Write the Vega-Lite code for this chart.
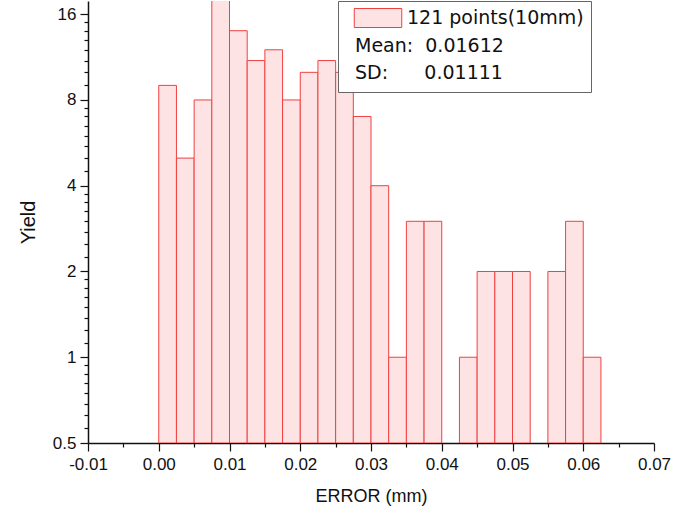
{
  "$schema": "https://vega.github.io/schema/vega-lite/v6.json",
  "autosize": {"type": "none"},
  "width": 566,
  "height": 442,
  "padding": {"left": 88, "top": 1, "right": 28, "bottom": 68},
  "background": "white",
  "config": {
    "view": {"stroke": null},
    "font": "Liberation Sans",
    "axis": {
      "grid": false,
      "domainColor": "#111",
      "domainWidth": 1.5,
      "tickColor": "#111",
      "tickWidth": 1.2,
      "labelFont": "Liberation Sans",
      "labelFontSize": 17,
      "labelColor": "#111",
      "titleFont": "Liberation Sans",
      "titleFontSize": 18,
      "titleFontWeight": "normal",
      "titleColor": "#111"
    }
  },
  "data": {
    "values": [
      {"x0": 0.0, "x1": 0.0025, "count": 9, "series": "121 points(10mm)"},
      {"x0": 0.0025, "x1": 0.005, "count": 5, "series": "121 points(10mm)"},
      {"x0": 0.005, "x1": 0.0075, "count": 8, "series": "121 points(10mm)"},
      {"x0": 0.0075, "x1": 0.01, "count": 18, "series": "121 points(10mm)"},
      {"x0": 0.01, "x1": 0.0125, "count": 14, "series": "121 points(10mm)"},
      {"x0": 0.0125, "x1": 0.015, "count": 11, "series": "121 points(10mm)"},
      {"x0": 0.015, "x1": 0.0175, "count": 12, "series": "121 points(10mm)"},
      {"x0": 0.0175, "x1": 0.02, "count": 8, "series": "121 points(10mm)"},
      {"x0": 0.02, "x1": 0.0225, "count": 10, "series": "121 points(10mm)"},
      {"x0": 0.0225, "x1": 0.025, "count": 11, "series": "121 points(10mm)"},
      {"x0": 0.025, "x1": 0.0275, "count": 10, "series": "121 points(10mm)"},
      {"x0": 0.0275, "x1": 0.03, "count": 7, "series": "121 points(10mm)"},
      {"x0": 0.03, "x1": 0.0325, "count": 4, "series": "121 points(10mm)"},
      {"x0": 0.0325, "x1": 0.035, "count": 1, "series": "121 points(10mm)"},
      {"x0": 0.035, "x1": 0.0375, "count": 3, "series": "121 points(10mm)"},
      {"x0": 0.0375, "x1": 0.04, "count": 3, "series": "121 points(10mm)"},
      {"x0": 0.0425, "x1": 0.045, "count": 1, "series": "121 points(10mm)"},
      {"x0": 0.045, "x1": 0.0475, "count": 2, "series": "121 points(10mm)"},
      {"x0": 0.0475, "x1": 0.05, "count": 2, "series": "121 points(10mm)"},
      {"x0": 0.05, "x1": 0.0525, "count": 2, "series": "121 points(10mm)"},
      {"x0": 0.055, "x1": 0.0575, "count": 2, "series": "121 points(10mm)"},
      {"x0": 0.0575, "x1": 0.06, "count": 3, "series": "121 points(10mm)"},
      {"x0": 0.06, "x1": 0.0625, "count": 1, "series": "121 points(10mm)"}
    ]
  },
  "mark": {"type": "bar", "clip": true, "strokeWidth": 1},
  "encoding": {
    "x": {
      "field": "x0",
      "type": "quantitative",
      "scale": {"domain": [-0.01, 0.07], "nice": false, "zero": false},
      "axis": {
        "title": "ERROR (mm)",
        "titlePadding": 15,
        "values": [-0.01, -0.005, 0, 0.005, 0.01, 0.015, 0.02, 0.025, 0.03, 0.035, 0.04, 0.045, 0.05, 0.055, 0.06, 0.065, 0.07],
        "format": ".2f",
        "labelExpr": "round(datum.value*1000) % 10 === 0 ? replace(datum.label, '\u2212', '-') : ''",
        "tickSize": {"condition": {"test": "round(datum.value*1000) % 10 === 0", "value": 8}, "value": 4},
        "labelPadding": 5,
        "labelFlush": false
      }
    },
    "x2": {"field": "x1"},
    "y": {
      "field": "count",
      "type": "quantitative",
      "scale": {"type": "log", "base": 2, "domain": [0.5, 17.8], "nice": false},
      "axis": {
        "title": "Yield",
        "titleFontSize": 20,
        "titlePadding": 14,
        "format": "~g",
        "values": [0.5, 0.5625, 0.625, 0.6875, 0.75, 0.8125, 0.875, 0.9375, 1, 1.125, 1.25, 1.375, 1.5, 1.625, 1.75, 1.875, 2, 2.25, 2.5, 2.75, 3, 3.25, 3.5, 3.75, 4, 4.5, 5, 5.5, 6, 6.5, 7, 7.5, 8, 9, 10, 11, 12, 13, 14, 15, 16],
        "labelExpr": "indexof([0.5,1,2,4,8,16], datum.value) >= 0 ? datum.label : ''",
        "tickSize": {"condition": {"test": "indexof([0.5,1,2,4,8,16], datum.value) >= 0", "value": 8}, "value": 4},
        "labelPadding": 4,
        "labelFlush": false
      }
    },
    "y2": {"datum": 0.5},
    "fill": {
      "field": "series",
      "type": "nominal",
      "scale": {
        "domain": ["121 points(10mm)", "Mean:\u00a0\u00a00.01612", "SD:\u00a0\u00a0\u00a0\u00a0\u00a0\u00a00.01111"],
        "range": ["#fde3e3", "transparent", "transparent"]
      },
      "legend": {
        "title": null,
        "orient": "none",
        "legendX": 250,
        "legendY": 0,
        "fillColor": "white",
        "strokeColor": "#666",
        "padding": 7,
        "symbolType": "M-2.5,-1H2.5V1H-2.5Z",
        "symbolSize": 361,
        "symbolOffset": 23,
        "symbolStrokeWidth": 1,
        "labelFont": "DejaVu Sans",
        "labelFontSize": 19,
        "labelColor": "#111",
        "labelOffset": 19,
        "labelLimit": 400,
        "rowPadding": 3.5,
        "labelExpr": "datum.label == '121 points(10mm)' ? datum.label + '\u00a0\u00a0\u00a0' : datum.label",
        "encode": {
          "labels": {"update": {"dx": {"signal": "datum.label == '121 points(10mm)' ? 0 : -52"}}}
        }
      }
    },
    "stroke": {
      "field": "series",
      "type": "nominal",
      "scale": {
        "domain": ["121 points(10mm)", "Mean:\u00a0\u00a00.01612", "SD:\u00a0\u00a0\u00a0\u00a0\u00a0\u00a00.01111"],
        "range": ["#f04040", "transparent", "transparent"]
      }
    }
  }
}
